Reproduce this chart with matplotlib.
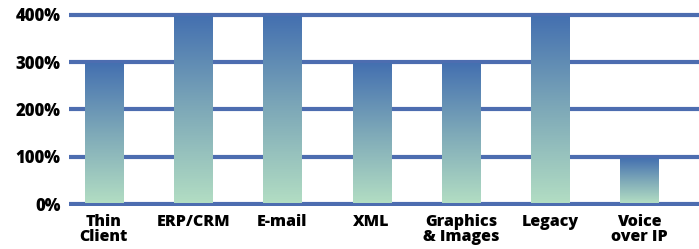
import numpy as np
import matplotlib.pyplot as plt
from matplotlib.colors import LinearSegmentedColormap

categories = ['Thin\nClient', 'ERP/CRM', 'E-mail', 'XML', 'Graphics\n& Images', 'Legacy', 'Voice\nover IP']
values = [300, 400, 400, 300, 300, 400, 100]
yticks = [0, 100, 200, 300, 400]

plt.rcParams['font.family'] = ['Open Sans', 'DejaVu Sans']

fig = plt.figure(figsize=(6.99, 2.49), dpi=100)
ax = fig.add_axes([0.0987, 0.173, 0.9013, 0.779])

cmap = LinearSegmentedColormap.from_list('bar', ['#b2ddc3', '#7ea9b8', '#4470b0'])
grad = np.linspace(0, 1, 256).reshape(-1, 1)

x = np.arange(len(categories))
width = 0.43
for yt in yticks:
    ax.axhline(yt, color='#4d6db0', lw=3.0, zorder=1)

bars = ax.bar(x, values, width=width, bottom=3, color='none', zorder=2)
for b, v in zip(bars, values):
    bx = b.get_x()
    im = ax.imshow(grad, cmap=cmap, origin='lower', aspect='auto',
                   extent=[bx, bx + width, 3, v - 2], zorder=2)
    im.set_clip_path(b)

ax.set_xlim(-0.39, 6.665)
ax.set_ylim(-4, 406)
ax.set_yticks(yticks)
ax.set_yticklabels([f'{t}%' for t in yticks], fontsize=12, fontweight='heavy')
ax.set_xticks(x)
ax.set_xticklabels(categories, fontsize=11.5, fontweight='heavy', linespacing=0.92, va='top')
ax.tick_params(length=0, pad=6)
ax.tick_params(axis='x', pad=6)
for s in ax.spines.values():
    s.set_visible(False)

fig.savefig('out.png', dpi=100)
